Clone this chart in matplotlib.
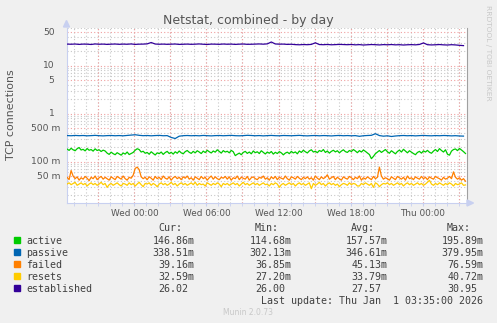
import numpy as np
import matplotlib
matplotlib.use('Agg')
import matplotlib.pyplot as plt
from matplotlib.ticker import FixedLocator, MultipleLocator, NullFormatter
from matplotlib.patches import Rectangle, Polygon
from matplotlib.transforms import blended_transform_factory

# hours relative to Wed 00:00; noisy series every 10 min, smooth ones every 20 min
start_hour = -5.6
fine_step = 1 / 6
coarse_step = 1 / 3

active = [
    0.182, 0.171, 0.189, 0.176, 0.168, 0.185, 0.196, 0.174, 0.180, 0.167,
    0.187, 0.172, 0.178, 0.165, 0.184, 0.170, 0.176, 0.162, 0.173, 0.166,
    0.150, 0.141, 0.157, 0.146, 0.139, 0.153, 0.144, 0.136, 0.151, 0.143,
    0.158, 0.140, 0.147, 0.155, 0.172, 0.185, 0.178, 0.158, 0.164, 0.149,
    0.155, 0.142, 0.160, 0.148, 0.137, 0.152, 0.146, 0.158, 0.141, 0.154,
    0.163, 0.147, 0.156, 0.143, 0.160, 0.149, 0.166, 0.152, 0.145, 0.161,
    0.170, 0.156, 0.148, 0.163, 0.152, 0.168, 0.158, 0.147, 0.165, 0.154,
    0.172, 0.160, 0.151, 0.166, 0.157, 0.176, 0.163, 0.150, 0.169, 0.158,
    0.164, 0.152, 0.171, 0.160, 0.133, 0.142, 0.150, 0.139, 0.155, 0.163,
    0.148, 0.158, 0.145, 0.166, 0.153, 0.160, 0.147, 0.168, 0.156, 0.144,
    0.158, 0.149, 0.162, 0.143, 0.156, 0.147, 0.161, 0.152, 0.138, 0.150,
    0.157, 0.146, 0.163, 0.151, 0.159, 0.145, 0.166, 0.155, 0.172, 0.160,
    0.151, 0.167, 0.176, 0.158, 0.164, 0.153, 0.170, 0.162, 0.178, 0.155,
    0.166, 0.150, 0.163, 0.172, 0.159, 0.168, 0.152, 0.165, 0.176, 0.161,
    0.155, 0.170, 0.162, 0.178, 0.166, 0.153, 0.169, 0.158, 0.174, 0.163,
    0.151, 0.140, 0.115, 0.128, 0.146, 0.158, 0.170, 0.155, 0.166, 0.178,
    0.160, 0.149, 0.168, 0.156, 0.145, 0.162, 0.173, 0.158, 0.180, 0.165,
    0.152, 0.168, 0.157, 0.147, 0.139, 0.155, 0.163, 0.150, 0.167, 0.158,
    0.171, 0.156, 0.149, 0.165, 0.178, 0.162, 0.186, 0.170, 0.158, 0.176,
    0.142, 0.136, 0.165, 0.178, 0.183, 0.169, 0.188, 0.174, 0.161, 0.147,
]
failed = [
    0.047, 0.042, 0.065, 0.050, 0.044, 0.048, 0.041, 0.046, 0.043, 0.049,
    0.045, 0.040, 0.047, 0.044, 0.050, 0.042, 0.046, 0.049, 0.043, 0.047,
    0.044, 0.041, 0.048, 0.045, 0.042, 0.049, 0.046, 0.043, 0.050, 0.044,
    0.041, 0.047, 0.045, 0.052, 0.072, 0.0766, 0.068, 0.048, 0.044, 0.047,
    0.042, 0.048, 0.045, 0.041, 0.049, 0.044, 0.047, 0.042, 0.050, 0.045,
    0.043, 0.048, 0.041, 0.046, 0.049, 0.044, 0.047, 0.042, 0.048, 0.045,
    0.050, 0.043, 0.046, 0.041, 0.048, 0.045, 0.042, 0.049, 0.044, 0.047,
    0.041, 0.046, 0.050, 0.043, 0.048, 0.044, 0.042, 0.047, 0.045, 0.049,
    0.043, 0.048, 0.041, 0.046, 0.044, 0.050, 0.042, 0.047, 0.045, 0.043,
    0.049, 0.041, 0.046, 0.048, 0.044, 0.042, 0.047, 0.045, 0.050, 0.043,
    0.046, 0.041, 0.048, 0.044, 0.049, 0.042, 0.047, 0.045, 0.043, 0.050,
    0.044, 0.041, 0.048, 0.046, 0.043, 0.049, 0.045, 0.042, 0.047, 0.044,
    0.048, 0.043, 0.046, 0.041, 0.050, 0.045, 0.042, 0.048, 0.044, 0.047,
    0.053, 0.043, 0.046, 0.049, 0.042, 0.047, 0.044, 0.041, 0.048, 0.045,
    0.043, 0.049, 0.046, 0.042, 0.047, 0.044, 0.050, 0.041, 0.046, 0.043,
    0.048, 0.045, 0.042, 0.049, 0.044, 0.047, 0.0766, 0.050, 0.043, 0.046,
    0.044, 0.041, 0.048, 0.045, 0.042, 0.049, 0.046, 0.043, 0.047, 0.041,
    0.050, 0.044, 0.046, 0.042, 0.048, 0.045, 0.043, 0.049, 0.044, 0.047,
    0.042, 0.048, 0.045, 0.043, 0.049, 0.046, 0.044, 0.041, 0.047, 0.043,
    0.045, 0.049, 0.044, 0.061, 0.047, 0.043, 0.046, 0.041, 0.044, 0.039,
]
resets = [
    0.034, 0.036, 0.033, 0.035, 0.037, 0.032, 0.034, 0.036, 0.033, 0.035,
    0.031, 0.034, 0.036, 0.033, 0.035, 0.032, 0.034, 0.037, 0.033, 0.035,
    0.029, 0.033, 0.035, 0.032, 0.034, 0.036, 0.033, 0.031, 0.035, 0.034,
    0.032, 0.036, 0.033, 0.035, 0.031, 0.034, 0.037, 0.033, 0.030, 0.035,
    0.034, 0.036, 0.032, 0.035, 0.033, 0.030, 0.034, 0.036, 0.033, 0.035,
    0.032, 0.034, 0.037, 0.033, 0.035, 0.031, 0.034, 0.036, 0.033, 0.035,
    0.032, 0.034, 0.036, 0.033, 0.037, 0.032, 0.035, 0.033, 0.034, 0.031,
    0.036, 0.034, 0.032, 0.035, 0.033, 0.036, 0.034, 0.030, 0.035, 0.033,
    0.035, 0.032, 0.034, 0.036, 0.033, 0.035, 0.031, 0.034, 0.037, 0.033,
    0.035, 0.032, 0.034, 0.036, 0.033, 0.035, 0.032, 0.034, 0.036, 0.033,
    0.034, 0.031, 0.035, 0.033, 0.036, 0.034, 0.029, 0.033, 0.035, 0.032,
    0.034, 0.036, 0.033, 0.035, 0.031, 0.034, 0.036, 0.033, 0.035, 0.032,
    0.034, 0.036, 0.0272, 0.035, 0.032, 0.034, 0.037, 0.033, 0.035, 0.031,
    0.034, 0.036, 0.033, 0.035, 0.032, 0.034, 0.030, 0.033, 0.035, 0.034,
    0.032, 0.036, 0.033, 0.035, 0.034, 0.031, 0.031, 0.035, 0.033, 0.036,
    0.034, 0.032, 0.035, 0.029, 0.036, 0.034, 0.030, 0.033, 0.035, 0.034,
    0.036, 0.033, 0.035, 0.032, 0.034, 0.036, 0.033, 0.035, 0.031, 0.034,
    0.036, 0.033, 0.035, 0.032, 0.034, 0.036, 0.033, 0.035, 0.032, 0.034,
    0.037, 0.0407, 0.034, 0.032, 0.035, 0.033, 0.036, 0.034, 0.032, 0.035,
    0.033, 0.036, 0.034, 0.031, 0.035, 0.033, 0.034, 0.036, 0.032, 0.0326,
]
passive = [
    0.348, 0.345, 0.350, 0.346, 0.349, 0.344, 0.347, 0.351, 0.346, 0.343,
    0.347, 0.349, 0.345, 0.348, 0.344, 0.350, 0.356, 0.362, 0.352, 0.346,
    0.349, 0.344, 0.348, 0.351, 0.345, 0.347, 0.318, 0.302, 0.338, 0.346,
    0.349, 0.345, 0.348, 0.344, 0.350, 0.346, 0.343, 0.347, 0.349, 0.345,
    0.348, 0.351, 0.346, 0.344, 0.347, 0.352, 0.349, 0.345, 0.348, 0.343,
    0.347, 0.350, 0.346, 0.344, 0.349, 0.347, 0.345, 0.348, 0.351, 0.346,
    0.343, 0.347, 0.349, 0.344, 0.348, 0.346, 0.342, 0.347, 0.350, 0.345,
    0.348, 0.344, 0.347, 0.336, 0.345, 0.349, 0.352, 0.380, 0.348, 0.338,
    0.344, 0.333, 0.341, 0.346, 0.349, 0.345, 0.348, 0.343, 0.347, 0.350,
    0.346, 0.344, 0.348, 0.345, 0.349, 0.347, 0.343, 0.346, 0.341, 0.339,
]
established = [
    28.0, 27.8, 28.1, 27.6, 28.0, 27.9, 27.5, 28.2, 27.8, 28.0,
    27.6, 27.9, 28.1, 27.7, 28.0, 27.8, 28.2, 27.6, 27.9, 28.0,
    28.3, 30.2, 28.1, 27.8, 28.0, 27.7, 27.9, 28.1, 27.6, 27.8,
    28.0, 27.7, 27.9, 28.2, 27.8, 27.5, 28.0, 27.9, 27.7, 28.1,
    27.8, 28.0, 27.6, 27.9, 28.1, 27.7, 27.8, 28.0, 28.2, 27.9,
    28.3, 30.95, 28.2, 27.9, 28.0, 27.6, 27.8, 27.3, 27.1, 27.4,
    27.2, 27.6, 29.8, 27.4, 27.2, 27.5, 27.1, 27.3, 27.6, 27.4,
    27.2, 27.5, 27.0, 27.3, 26.8, 27.1, 27.4, 27.2, 26.9, 27.3,
    27.1, 27.4, 27.0, 27.2, 26.8, 27.1, 27.3, 27.0, 27.5, 29.6,
    27.2, 26.9, 27.1, 27.4, 27.0, 26.8, 27.2, 26.9, 26.4, 26.02,
]

names = ['active', 'passive', 'failed', 'resets', 'established']
colors = ['#00CC00', '#0066B3', '#FF8000', '#FFCC00', '#330099']
cur = ['146.86m', '338.51m', '39.16m', '32.59m', '26.02']
mins = ['114.68m', '302.13m', '36.85m', '27.20m', '26.00']
avgs = ['157.57m', '346.61m', '45.13m', '33.79m', '27.57']
maxs = ['195.89m', '379.95m', '76.59m', '40.72m', '30.95']

xtick_hours = [0, 6, 12, 18, 24]
xtick_labels = ['Wed 00:00', 'Wed 06:00', 'Wed 12:00', 'Wed 18:00', 'Thu 00:00']
ytick_vals = [0.05, 0.1, 0.5, 1, 5, 10, 50]
ytick_labels = ['50 m', '100 m', '500 m', '1', '5', '10', '50']

W, H = 497, 323


def fx(px):
    return px / W


def fy(py):
    return 1 - py / H


fig = plt.figure(figsize=(W / 100, H / 100), dpi=100, facecolor='#F0F0F0')
ax = fig.add_axes([fx(66.5), fy(203), fx(466.5) - fx(66.5), fy(28) - fy(203)])
ax.set_facecolor('white')

fine_hours = start_hour + fine_step * np.arange(len(active))
coarse_hours = start_hour + coarse_step * np.arange(len(passive))
series = [(fine_hours, active), (coarse_hours, passive), (fine_hours, failed),
          (fine_hours, resets), (coarse_hours, established)]
for (hrs, vals), c in zip(series, colors):
    ax.plot(hrs, vals, color=c, lw=0.9, zorder=5)

ax.set_yscale('log')
ax.set_ylim(0.0137, 60.6)
ax.set_xlim(-5.65, 27.65)

# grid: gray minor, red major
dot = (0, (1, 2))
ax.xaxis.set_major_locator(FixedLocator(xtick_hours))
ax.xaxis.set_minor_locator(MultipleLocator(1))
ax.set_xticklabels(xtick_labels)
ax.yaxis.set_major_locator(FixedLocator(ytick_vals))
ax.yaxis.set_minor_locator(FixedLocator(
    [m * 10.0 ** e for e in range(-2, 2) for m in (2, 3, 4, 6, 7, 8, 9)]))
ax.yaxis.set_major_formatter(NullFormatter())
ax.yaxis.set_minor_formatter(NullFormatter())
ax.grid(True, which='minor', color='#C8C8C8', ls=dot, lw=0.8)
ax.grid(True, which='major', axis='y', color='#F0A0A0', ls=dot, lw=0.8)
ax.grid(True, which='major', axis='x', color='#C8C8C8', ls=dot, lw=0.8)
for h in range(-3, 28, 3):
    ax.axvline(h, color='#F0A0A0', ls=dot, lw=0.8, zorder=1)
ax.set_axisbelow(True)

ax.tick_params(axis='x', which='major', length=2, color='#C8D0F0', labelsize=6.4,
               labelcolor='#555555', pad=2.5)
ax.tick_params(axis='x', which='minor', length=2, color='#C8D0F0')
ax.tick_params(axis='y', which='both', length=0)

ax.spines['top'].set_visible(False)
ax.spines['left'].set_color('#C8D0F0')
ax.spines['bottom'].set_color('#C8D0F0')
ax.spines['right'].set_color('#A0A0A0')
for s in ['left', 'bottom', 'right']:
    ax.spines[s].set_linewidth(0.8)

# axis arrows
fig.patches.append(Polygon([(fx(63.5), fy(27)), (fx(69.5), fy(27)), (fx(66.5), fy(20.5))],
                           closed=True, color='#C8D0F0', transform=fig.transFigure))
fig.patches.append(Polygon([(fx(467), fy(200)), (fx(467), fy(206)), (fx(473.5), fy(203))],
                           closed=True, color='#C8D0F0', transform=fig.transFigure))

# y tick labels
tr = blended_transform_factory(fig.transFigure, ax.transData)
for v, lab in zip(ytick_vals, ytick_labels):
    xr = 60.8 if lab.endswith('m') else 54.5
    ax.text(fx(xr), v, lab, transform=tr, ha='right', va='center',
            fontsize=6.6, color='#555555', clip_on=False)

fig.text(fx(248), fy(24), 'Netstat, combined - by day', ha='center', va='baseline',
         fontsize=9, color='#555555')
fig.text(fx(11), fy(115), 'TCP connections', ha='center', va='center', rotation=90,
         fontsize=7.9, color='#555555')
fig.text(fx(488), fy(53), 'RRDTOOL / TOBI OETIKER', ha='center', va='center',
         rotation=270, fontsize=5.4, color='#C8C8C8')
fig.text(fx(248), fy(315), 'Munin 2.0.73', ha='center', va='baseline',
         fontsize=5.5, color='#C8C8C8')

# legend table
mono = 'DejaVu Sans Mono'
lfs = 7.2
tcol = '#404040'
for lab, xl in zip(['Cur:', 'Min:', 'Avg:', 'Max:'], [158.3, 255, 351.3, 447]):
    fig.text(fx(xl), fy(231.3), lab, family=mono, fontsize=lfs, color=tcol, va='baseline')
col_right = [194.3, 291.3, 387.3, 483.3]
for i, (n, c) in enumerate(zip(names, colors)):
    base = 243.7 + 12 * i
    fig.patches.append(Rectangle((fx(14), fy(base - 1)), fx(6), 6 / H, color=c,
                                 transform=fig.transFigure))
    fig.text(fx(26.3), fy(base), n, family=mono, fontsize=lfs, color=tcol, va='baseline')
    for col, xr in zip([cur, mins, avgs, maxs], col_right):
        v = col[i]
        if not v.endswith('m'):
            xr -= 6
        fig.text(fx(xr), fy(base), v, family=mono, fontsize=lfs, color=tcol,
                 va='baseline', ha='right')
fig.text(fx(483.3), fy(303.5), 'Last update: Thu Jan  1 03:35:00 2026', family=mono,
         fontsize=lfs, color=tcol, va='baseline', ha='right')

fig.savefig('out.png', dpi=100, facecolor='#F0F0F0')
